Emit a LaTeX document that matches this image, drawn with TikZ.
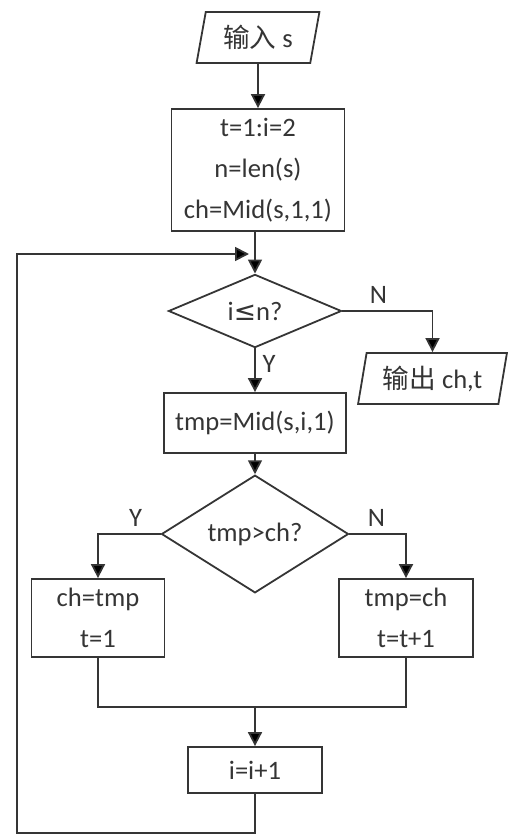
\documentclass[tikz,border=0pt]{standalone}
\usepackage{fontspec}
\setmainfont{Carlito}
\newfontfamily\cjk{Noto Sans CJK SC}
\newfontfamily\symf{DejaVu Sans}
\usetikzlibrary{shapes.geometric,arrows.meta}
\definecolor{ink}{HTML}{353535}
\begin{document}
\begin{tikzpicture}[x=0.5pt,y=-0.5pt,
  every node/.style={text=ink,font=\fontsize{13.3}{20.5}\selectfont},
  line/.style={draw=ink,line width=0.9pt},
  arr/.style={line,-{Triangle[width=7pt,length=7pt,fill=black]}},
  box/.style={line,align=center,inner sep=0pt},
  choice/.style={line,diamond,inner sep=0pt},
  inout/.style={line,trapezium,trapezium left angle=76,trapezium right angle=104,trapezium stretches=true,inner sep=0pt}]
        \useasboundingbox (0,0) rectangle (517,834);
        % nodes
        \node[inout,minimum width=61.5pt,minimum height=25.5pt] (in) at (258,37.5) {{\cjk 输入} s};
        \node[box,minimum width=86.5pt,minimum height=61pt] (init) at (258,170) {t=1:i=2\\n=len(s)\\ch=Mid(s,1,1)};
        \node[choice,minimum width=86.5pt,minimum height=36pt] (c1) at (255,311) {i{\symf ≤}n?};
        \node[inout,minimum width=74.5pt,minimum height=25.5pt] (out) at (432.5,378.5) {{\cjk 输出} ch,t};
        \node[box,minimum width=91pt,minimum height=30pt] (mid) at (255,423) {tmp=Mid(s,i,1)};
        \node[choice,minimum width=93.5pt,minimum height=36pt] (c2) at (255,534) {tmp>ch?};
        \node[box,minimum width=66.5pt,minimum height=39pt] (yes) at (98,618) {ch=tmp\\t=1};
        \node[box,minimum width=67pt,minimum height=39pt] (no) at (406,618) {tmp=ch\\t=t+1};
        \node[box,minimum width=67pt,minimum height=23pt] (inc) at (255,770) {i=i+1};
        \coordinate (join) at (255,707);
        \coordinate (corner) at (17,833);
        \coordinate (back) at (249,254);
        % connectors
        \draw[arr] (in) -- (init);
        \draw[arr] (init.south -| c1.north) -- (c1);
        \draw[arr] (c1.east) -| node[pos=0.2,above]{N} (out.north);
        \draw[arr] (c1) -- node[pos=0.35,right]{Y} (mid);
        \draw[arr] (mid) -- (c2);
        \draw[arr] (c2.west) -| node[pos=0.2,above]{Y} (yes.north);
        \draw[arr] (c2.east) -| node[pos=0.24,above]{N} (no.north);
        \draw[line] (yes.south) |- (join) -| (no.south);
        \draw[arr] (join) -- (inc);
        \draw[arr] (inc.south) |- (corner) |- (back);
\end{tikzpicture}
\end{document}
